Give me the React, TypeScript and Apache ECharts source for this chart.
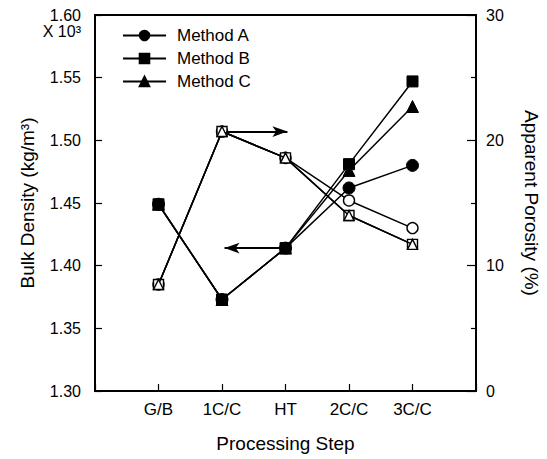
import React, { useEffect, useRef } from "react";
import * as echarts from "echarts";

const categories = ["G/B", "1C/C", "HT", "2C/C", "3C/C"];
const seriesNames = ["Method A", "Method B", "Method C"];
const densityA = [1.449, 1.373, 1.414, 1.462, 1.48];
const densityB = [1.449, 1.373, 1.414, 1.481, 1.547];
const densityC = [1.449, 1.373, 1.414, 1.476, 1.527];
const porosityA = [8.5, 20.7, 18.6, 15.2, 13.0];
const porosityB = [8.5, 20.7, 18.6, 14.0, 11.7];
const porosityC = [8.5, 20.7, 18.6, 14.0, 11.7];

const FONT = "'Liberation Sans', Arial, Helvetica, sans-serif";

const toPoints = (vals: number[]) => vals.map((v, i) => [i + 1, v]);

export default function App() {
  const ref = useRef<HTMLDivElement>(null);
  useEffect(() => {
    if (!ref.current) return;
    const chart = echarts.init(ref.current, null, { renderer: "svg" });
    const lineStyle = { color: "#000", width: 1.5 };
    const filled = { color: "#000", borderColor: "#000", borderWidth: 1 };
    const open = { color: "#fff", borderColor: "#000", borderWidth: 1.4 };
    const symbols = ["circle", "rect", "triangle"];
    const sizes = [12, 11, 12];
    const openSizes = [11, 10, 10];
    const densities = [densityA, densityB, densityC];
    const porosities = [porosityA, porosityB, porosityC];

    const series: any[] = [];
    porosities.forEach((vals, k) => {
      series.push({
        name: seriesNames[k] + " (porosity)",
        type: "line",
        yAxisIndex: 1,
        data: toPoints(vals),
        symbol: symbols[k],
        symbolSize: openSizes[k],
        showAllSymbol: true,
        lineStyle,
        itemStyle: open,
        z: 3 + k,
        markLine:
          k === 0
            ? {
                silent: true,
                symbol: ["none", "arrow"],
                symbolSize: [8, 15],
                label: { show: false },
                lineStyle: { color: "#000", width: 2, type: "solid" },
                data: [[{ coord: [2.07, porosityA[1]] }, { coord: [3.03, porosityA[1]] }]],
              }
            : undefined,
      });
    });
    densities.forEach((vals, k) => {
      series.push({
        name: seriesNames[k],
        type: "line",
        yAxisIndex: 0,
        data: toPoints(vals),
        symbol: symbols[k],
        symbolSize: sizes[k],
        showAllSymbol: true,
        lineStyle,
        itemStyle: filled,
        z: 6 + k,
        markLine:
          k === 0
            ? {
                silent: true,
                symbol: ["none", "arrow"],
                symbolSize: [8, 15],
                label: { show: false },
                lineStyle: { color: "#000", width: 2, type: "solid" },
                data: [[{ coord: [2.93, densityA[2]] }, { coord: [2.04, densityA[2]] }]],
              }
            : undefined,
      });
    });

    chart.setOption({
      animation: false,
      backgroundColor: "#fff",
      textStyle: { fontFamily: FONT, color: "#000" },
      grid: {
        left: 95,
        right: 71,
        top: 15,
        bottom: 68,
        containLabel: false,
        outerBoundsMode: "none",
        show: true,
        borderColor: "#000",
        borderWidth: 2,
        backgroundColor: "transparent",
      },
      legend: {
        data: seriesNames,
        orient: "vertical",
        left: 122,
        top: 27,
        padding: 0,
        itemWidth: 43,
        itemHeight: 12,
        itemGap: 6,
        textStyle: { fontSize: 17, color: "#000", fontFamily: FONT, padding: [0, 0, 0, 6] },
      },
      xAxis: {
        type: "value",
        min: 0,
        max: 6,
        interval: 1,
        name: "Processing Step",
        nameLocation: "middle",
        nameGap: 43,
        nameTextStyle: { fontSize: 19, color: "#000", fontFamily: FONT },
        axisLine: { show: true, lineStyle: { color: "#000", width: 2 } },
        axisTick: { show: true, inside: true, length: 7, lineStyle: { color: "#000", width: 1.2 } },
        splitLine: { show: false },
        axisLabel: {
          fontSize: 17,
          color: "#000",
          margin: 10,
          fontFamily: FONT,
          formatter: (v: number) => categories[v - 1] ?? "",
        },
      },
      yAxis: [
        {
          type: "value",
          min: 1.3,
          max: 1.6,
          interval: 0.05,
          name: "Bulk Density (kg/m³)",
          nameLocation: "middle",
          nameGap: 58,
          nameTextStyle: { fontSize: 19, color: "#000", fontFamily: FONT },
          axisLine: { show: true, lineStyle: { color: "#000", width: 2 } },
          axisTick: { show: true, inside: true, length: 7, lineStyle: { color: "#000", width: 1.2 } },
          splitLine: { show: false },
          axisLabel: {
            fontSize: 16,
            color: "#000",
            margin: 14,
            fontFamily: FONT,
            formatter: (v: number) => v.toFixed(2),
          },
        },
        {
          type: "value",
          min: 0,
          max: 30,
          interval: 10,
          position: "right",
          name: "Apparent Porosity (%)",
          nameLocation: "middle",
          nameRotate: -90,
          nameGap: 46,
          nameTextStyle: { fontSize: 19, color: "#000", fontFamily: FONT },
          axisLine: { show: true, lineStyle: { color: "#000", width: 2 } },
          axisTick: { show: true, inside: true, length: 9, lineStyle: { color: "#000", width: 1.2 } },
          minorTick: { show: true, splitNumber: 2, length: 5, lineStyle: { color: "#000", width: 1.2 } },
          splitLine: { show: false },
          minorSplitLine: { show: false },
          axisLabel: { fontSize: 16, color: "#000", margin: 10, fontFamily: FONT },
        },
      ],
      graphic: [
        {
          type: "text",
          right: 547 - 81,
          top: 23,
          style: { text: "X 10³", font: `16px ${FONT}`, fill: "#000" },
        },
      ],
      series,
    });
    return () => chart.dispose();
  }, []);
  return (
    <div
      ref={ref}
      style={{ position: "fixed", left: 0, top: 0, width: 547, height: 459, background: "#fff" }}
    />
  );
}
